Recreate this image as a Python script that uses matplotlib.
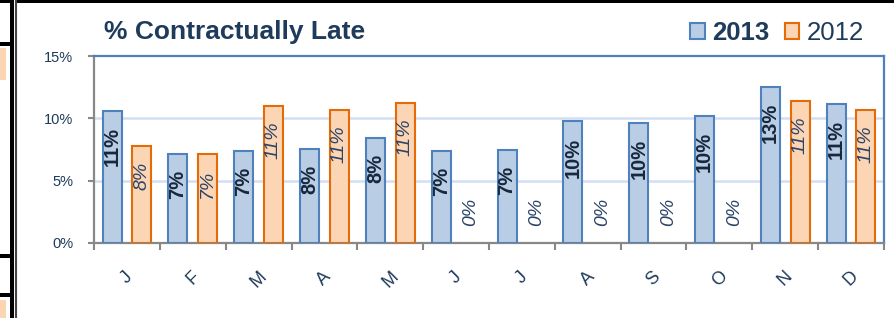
import matplotlib
matplotlib.use("Agg")
import matplotlib.pyplot as plt
import numpy as np
from matplotlib.lines import Line2D
from matplotlib.patches import Rectangle

months = ["J", "F", "M", "A", "M", "J", "J", "A", "S", "O", "N", "D"]
late_2013 = [10.6, 7.15, 7.4, 7.55, 8.45, 7.4, 7.45, 9.75, 9.6, 10.2, 12.55, 11.15]
late_2012 = [7.8, 7.15, 11.0, 10.7, 11.25, 0, 0, 0, 0, 0, 11.4, 10.7]
y_ticks = [0, 5, 10, 15]

NAVY = "#1f3b5c"
plt.rcParams["font.family"] = ["Liberation Sans", "DejaVu Sans"]

fig = plt.figure(figsize=(8.94, 3.18), dpi=100, facecolor="white")
ax = fig.add_axes([94 / 894, 75 / 318, 790 / 894, 187 / 318])

x = np.arange(len(months))
width = 0.29
off = 0.225
b13 = ax.bar(x - off, late_2013, width, color="#b9cde5", edgecolor="#4f81bd",
             linewidth=1.5, label="2013", zorder=3)
b12 = ax.bar(x + off, late_2012, width, color="#fcd5b5", edgecolor="#e36c09",
             linewidth=1.5, label="2012", zorder=3)
# empty months: no visible outline on the axis
for patch, v in zip(b12.patches, late_2012):
    if v == 0:
        patch.set_visible(False)

for xi, v in zip(x - off, late_2013):
    ax.annotate(f"{round(v)}%", (xi, v), xytext=(0, -11.5), textcoords="offset points",
                rotation=90, ha="center", va="top", fontsize=14.5, fontweight="bold",
                color="#17283d", zorder=4)
for xi, v in zip(x + off, late_2012):
    if v > 0:
        ax.annotate(f"{round(v)}%", (xi, v), xytext=(0, -11.5), textcoords="offset points",
                    rotation=90, ha="center", va="top", fontsize=14, style="italic",
                    color="#2a4468", zorder=4)
    else:
        ax.annotate(f"{round(v)}%", (xi, v), xytext=(0, 12), textcoords="offset points",
                    rotation=90, ha="center", va="bottom", fontsize=14, style="italic",
                    color="#2a4468", zorder=4)

ax.set_xlim(-0.5, len(months) - 0.5)
ax.set_ylim(0, 15)
ax.set_yticks(y_ticks)
ax.set_yticklabels([f"{t}%" for t in y_ticks], fontsize=10.5, color=NAVY)
ax.tick_params(axis="y", length=4, width=1.5, color="#888888", pad=11)

ax.set_xticks(x)
ax.set_xticklabels(months, rotation=45, fontsize=13, color=NAVY)
ax.tick_params(axis="x", which="major", length=0, pad=18)
ax.set_xticks(np.arange(len(months) + 1) - 0.5, minor=True)
ax.tick_params(axis="x", which="minor", length=5, width=1.5, color="#888888")

for t in [5, 10]:
    ax.axhline(t, color="#d3dff2", linewidth=1.8, zorder=1)

for side in ["left", "bottom"]:
    ax.spines[side].set_color("#888888")
    ax.spines[side].set_linewidth(1.6)
for side in ["top", "right"]:
    ax.spines[side].set_color("#4f81bd")
    ax.spines[side].set_linewidth(1.6)

fig.text(104 / 894, 1 - 39 / 318, "% Contractually Late", fontsize=19, fontweight="bold",
         color=NAVY, va="baseline", ha="left")

leg = fig.legend(handles=[b13, b12], loc="upper right", bbox_to_anchor=(864 / 894, 1 - 21 / 318),
                 ncol=2, frameon=False, fontsize=18.5, handlelength=0.55, handleheight=0.55,
                 handletextpad=0.3, columnspacing=0.6, borderaxespad=0, borderpad=0)
for txt in leg.get_texts():
    txt.set_color(NAVY)
leg.get_texts()[0].set_fontweight("bold")

# frame pieces around the chart (neighbouring slide content)
W, H = 894, 318
fig.add_artist(Rectangle((10 / W, 0), 4 / W, 1, transform=fig.transFigure,
                         color="black", lw=0))
fig.add_artist(Line2D([15.5 / W, 15.5 / W], [0, 1], transform=fig.transFigure,
                      color="#444444", lw=1.5))
fig.add_artist(Rectangle((15 / W, 1 - 3 / H), 1 - 15 / W, 3 / H, transform=fig.transFigure,
                         color="black", lw=0))
fig.add_artist(Rectangle((0, 1 - 3 / H), 10 / W, 3 / H, transform=fig.transFigure,
                         color="black", lw=0))
for yy in [43, 255, 294]:
    fig.add_artist(Rectangle((0, 1 - (yy + 3) / H), 10 / W, 4 / H, transform=fig.transFigure,
                             color="black", lw=0))
for y0, y1 in [(48, 80), (300, 318)]:
    fig.add_artist(Rectangle((0, 1 - y1 / H), 6 / W, (y1 - y0) / H, transform=fig.transFigure,
                             color="#fcd5b5", lw=0))

fig.savefig("out.png", dpi=100)
